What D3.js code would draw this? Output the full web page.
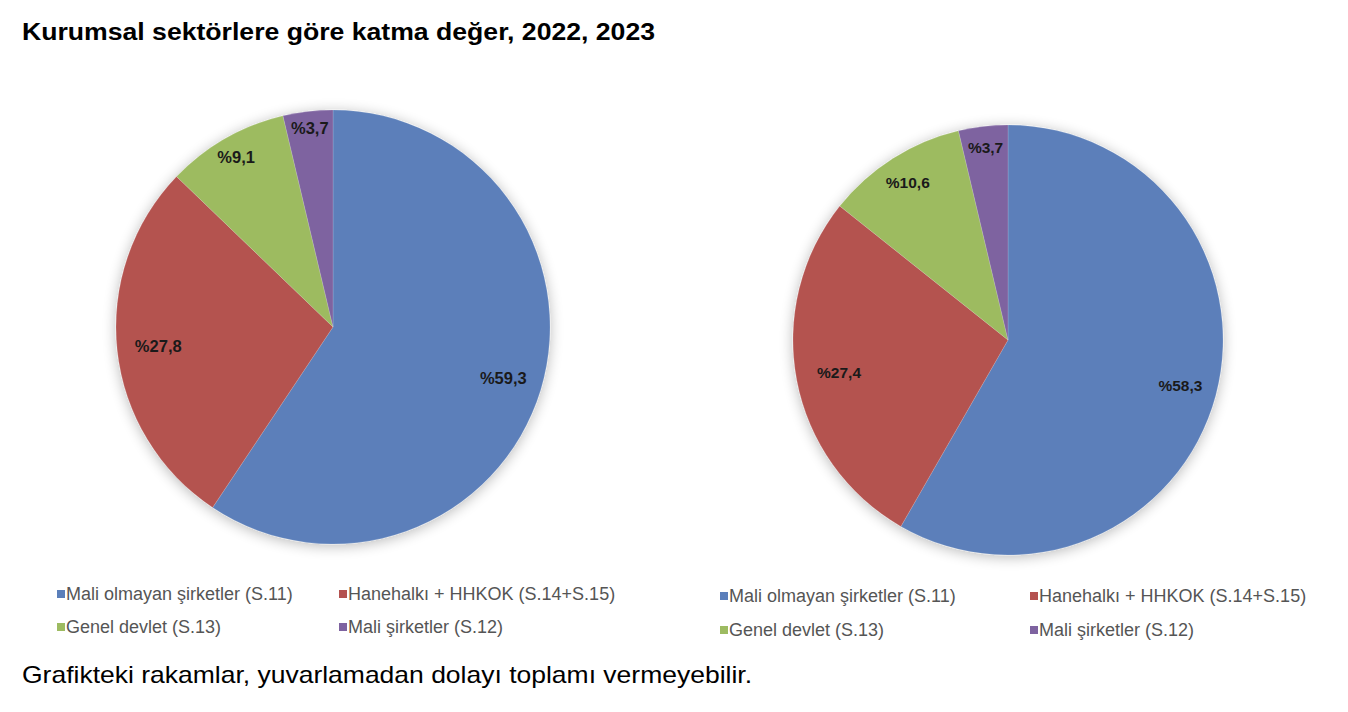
<!DOCTYPE html>
<html>
<head>
<meta charset="utf-8">
<script src="https://cdn.jsdelivr.net/npm/d3@7"></script>
<style>
  html, body { margin: 0; padding: 0; background: #fff; }
  svg { display: block; }
</style>
</head>
<body>
<svg id="chart" width="1348" height="712"></svg>
<script>
// ---- Data ----
const titleText = "Kurumsal sektörlere göre katma değer, 2022, 2023";
const footnoteText = "Grafikteki rakamlar, yuvarlamadan dolayı toplamı vermeyebilir.";
const categories = [
  "Mali olmayan şirketler (S.11)",
  "Hanehalkı + HHKOK (S.14+S.15)",
  "Genel devlet (S.13)",
  "Mali şirketler (S.12)"
];
const values2022 = [59.3, 27.8, 9.1, 3.7];
const values2023 = [58.3, 27.4, 10.6, 3.7];
const labels2022 = ["%59,3", "%27,8", "%9,1", "%3,7"];
const labels2023 = ["%58,3", "%27,4", "%10,6", "%3,7"];
const colors = ["#5B7FBA", "#B4524F", "#9DBB61", "#7E63A0"];

// ---- Layout / style ----
const svg = d3.select("#chart");
const fontFam = "'Liberation Sans', Arial, Helvetica, sans-serif";

const defs = svg.append("defs");
const f = defs.append("filter").attr("id", "glow")
  .attr("x", "-20%").attr("y", "-20%").attr("width", "140%").attr("height", "140%");
f.append("feGaussianBlur").attr("in", "SourceAlpha").attr("stdDeviation", 7).attr("result", "b");
f.append("feOffset").attr("in", "b").attr("dx", 0).attr("dy", 2).attr("result", "o");
f.append("feComponentTransfer").attr("in", "o").attr("result", "s")
  .append("feFuncA").attr("type", "linear").attr("slope", 0.28);
const m = f.append("feMerge");
m.append("feMergeNode").attr("in", "s");
m.append("feMergeNode").attr("in", "SourceGraphic");

svg.append("text")
  .attr("x", 22).attr("y", 40)
  .attr("font-family", fontFam).attr("font-weight", "bold")
  .attr("font-size", 23).attr("fill", "#000")
  .attr("textLength", 633).attr("lengthAdjust", "spacingAndGlyphs")
  .text(titleText);

svg.append("text")
  .attr("x", 22).attr("y", 683)
  .attr("font-family", fontFam)
  .attr("font-size", 24).attr("fill", "#000")
  .attr("textLength", 730).attr("lengthAdjust", "spacingAndGlyphs")
  .text(footnoteText);

const pieGen = d3.pie().sort(null).value(d => d);

function drawPie(cfg) {
  const g = svg.append("g").attr("transform", `translate(${cfg.cx},${cfg.cy})`);
  const arcs = pieGen(cfg.values);
  const arc = d3.arc().innerRadius(0).outerRadius(cfg.r);
  const slices = g.append("g").attr("filter", "url(#glow)");
  slices.selectAll("path").data(arcs).enter().append("path")
    .attr("d", arc)
    .attr("fill", (d, i) => colors[i])
    .attr("stroke", "rgba(255,255,255,0.25)")
    .attr("stroke-width", 0.6);

  g.selectAll("text.lbl").data(arcs).enter().append("text")
    .attr("class", "lbl")
    .attr("transform", (d, i) => {
      const a = (d.startAngle + d.endAngle) / 2;
      const rr = cfg.r * cfg.labelR[i];
      return `translate(${Math.sin(a) * rr},${-Math.cos(a) * rr})`;
    })
    .attr("text-anchor", "middle")
    .attr("dy", "0.35em")
    .attr("font-family", fontFam).attr("font-weight", "bold")
    .attr("font-size", cfg.labelSize).attr("fill", "#1a1a1a")
    .text((d, i) => cfg.labels[i]);

  // legend
  const lg = svg.append("g");
  cfg.legendPos.forEach((p, i) => {
    lg.append("rect")
      .attr("x", p[0]).attr("y", p[1] - 10)
      .attr("width", 8).attr("height", 8)
      .attr("fill", colors[i]);
    lg.append("text")
      .attr("x", p[0] + 9).attr("y", p[1])
      .attr("font-family", fontFam)
      .attr("font-size", 18).attr("fill", "#555")
      .text(categories[i]);
  });
}

drawPie({
  cx: 333, cy: 327, r: 217,
  values: values2022, labels: labels2022, labelSize: 16.5,
  labelR: [0.82, 0.81, 0.9, 0.92],
  legendPos: [[57, 600], [339, 600], [57, 633], [339, 633]]
});
drawPie({
  cx: 1008, cy: 340, r: 215,
  values: values2023, labels: labels2023, labelSize: 15.5,
  labelR: [0.83, 0.8, 0.87, 0.9],
  legendPos: [[720, 602], [1030, 602], [720, 636], [1030, 636]]
});
</script>
</body>
</html>
